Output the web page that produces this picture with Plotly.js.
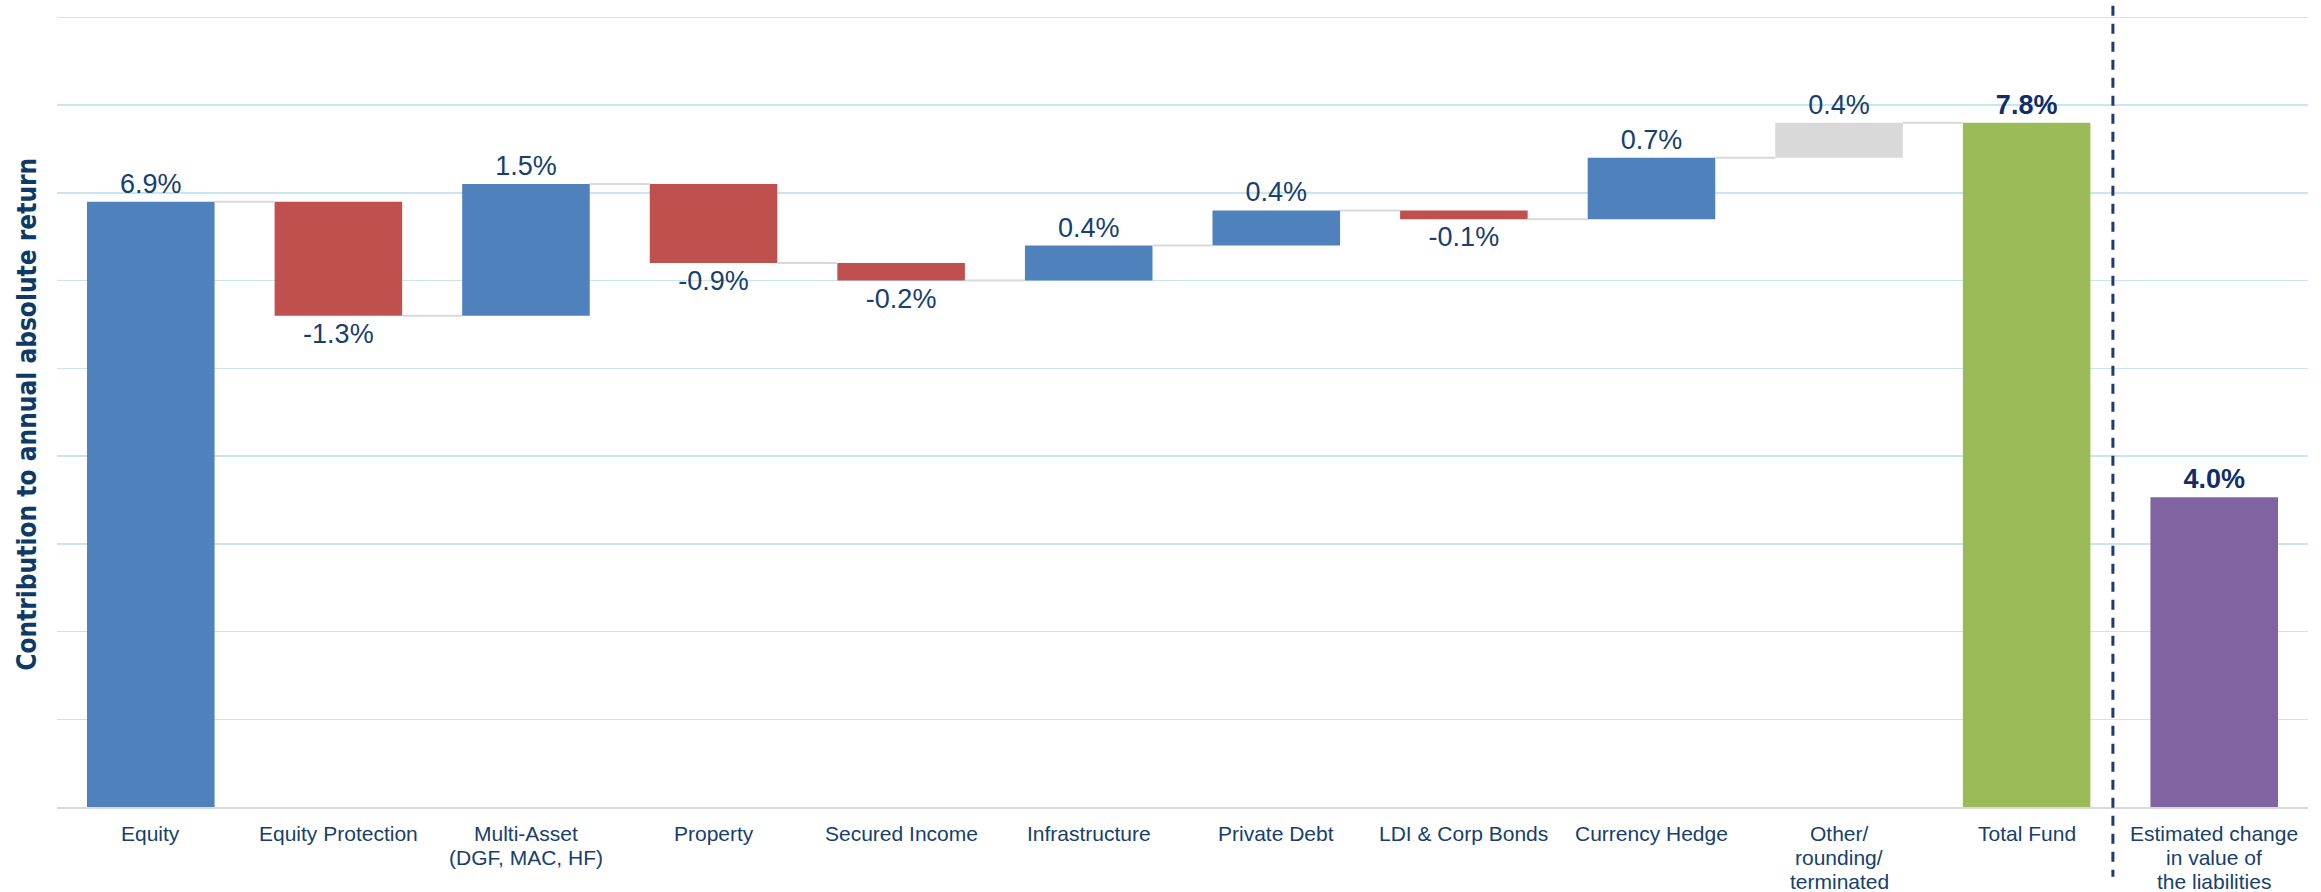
<!DOCTYPE html>
<html>
<head>
<meta charset="utf-8">
<script src="https://cdn.plot.ly/plotly-3.0.1.min.js"></script>
<style>html,body{margin:0;padding:0;background:#fff;}#chart{width:2321px;height:892px;}</style>
</head>
<body>
<div id="chart"></div>
<script>
// ---- data ----
const categories = ['Equity', 'Equity Protection', 'Multi-Asset<br>(DGF, MAC, HF)', 'Property',
  'Secured Income', 'Infrastructure', 'Private Debt', 'LDI & Corp Bonds', 'Currency Hedge',
  'Other/<br>rounding/<br>terminated', 'Total Fund', 'Estimated change<br>in value of<br>the liabilities'];
const contributions = [6.9, -1.3, 1.5, -0.9, -0.2, 0.4, 0.4, -0.1, 0.7, 0.4];
const contributionLabels = ['6.9%', '-1.3%', '1.5%', '-0.9%', '-0.2%', '0.4%', '0.4%', '-0.1%', '0.7%', '0.4%'];
const totalFund = [7.8];
const totalFundLabel = ['7.8%'];
const liabilityChange = [4.0];
const liabilityLabel = ['4.0%'];
const yTitle = 'Contribution to annual absolute return';

// ---- derived ----
const BLUE = '#4F81BD', RED = '#C0504D', GREY = '#D9D9D9', GREEN = '#9BBB59', PURPLE = '#8064A2';
const NAVY = '#17406D';
const BW = 0.68;
const stepX = contributions.map((_, i) => i);
const bases = [];
const levels = [];
let run = 0;
contributions.forEach((v) => { bases.push(run); run = Math.round((run + v) * 1000) / 1000; levels.push(run); });
const stepColors = contributions.map((v, i) => i === contributions.length - 1 ? GREY : (v >= 0 ? BLUE : RED));
const totalX = contributions.length;
const liabX = contributions.length + 1;

// connectors
const cx = [], cy = [];
for (let i = 0; i < contributions.length; i++) {
  cx.push(i + BW / 2, i + 1 - BW / 2, null);
  cy.push(levels[i], levels[i], null);
}

const labelFont = {family: 'Liberation Sans, Arial, sans-serif', size: 27, color: NAVY};
const boldFont = {family: 'Liberation Sans, Arial, sans-serif', size: 27, color: '#0F2D6B', weight: 'bold'};

const traces = [
  {type: 'scatter', mode: 'lines', x: cx, y: cy, line: {color: '#D9D9D9', width: 2}, hoverinfo: 'skip', showlegend: false},
  {type: 'bar', x: stepX, y: contributions, base: bases, width: BW,
    marker: {color: stepColors, line: {width: 0}},
    text: contributionLabels, textposition: 'outside', textfont: labelFont, outsidetextfont: labelFont,
    cliponaxis: false, constraintext: 'none', showlegend: false, hoverinfo: 'skip'},
  {type: 'bar', x: [totalX], y: totalFund, width: BW, marker: {color: GREEN},
    text: totalFundLabel.map(t => '<b>' + t + '</b>'), textposition: 'outside', textfont: boldFont, outsidetextfont: boldFont,
    cliponaxis: false, constraintext: 'none', showlegend: false, hoverinfo: 'skip'},
  {type: 'bar', x: [liabX], y: liabilityChange, width: BW, yaxis: 'y2', marker: {color: PURPLE},
    text: liabilityLabel.map(t => '<b>' + t + '</b>'), textposition: 'outside', textfont: boldFont, outsidetextfont: boldFont,
    cliponaxis: false, constraintext: 'none', showlegend: false, hoverinfo: 'skip'}
];

// category labels: one annotation per line so the line spacing can follow the reference
const annotations = [];
categories.forEach((c, i) => {
  c.split('<br>').forEach((line, k) => {
    annotations.push({
      xref: 'x', yref: 'paper', x: i, y: 0, xanchor: 'center', yanchor: 'middle',
      yshift: -26 - 24 * k, text: line, showarrow: false,
      font: {family: 'Liberation Sans, Arial, sans-serif', size: 21, color: NAVY}
    });
  });
});
annotations.push({
  xref: 'paper', yref: 'paper', x: -30 / 2251, y: 0.494, xanchor: 'center', yanchor: 'middle',
  textangle: -90, text: '<b>' + yTitle + '</b>', showarrow: false,
  font: {family: 'DejaVu Sans Condensed, DejaVu Sans, sans-serif', size: 26, color: '#0D3A66'}
});

const layout = {
  width: 2321, height: 892,
  margin: {l: 57, r: 13, t: 13, b: 85},
  paper_bgcolor: '#ffffff', plot_bgcolor: '#ffffff',
  barmode: 'overlay',
  showlegend: false,
  xaxis: {
    range: [-0.5, 11.5], tickmode: 'array', tickvals: categories.map((_, i) => i),
    showticklabels: false, showgrid: false, zeroline: false, showline: true, linecolor: '#D9D9D9', linewidth: 2,
    ticks: '', fixedrange: true
  },
  yaxis: {
    range: [0, 9.05], tickmode: 'array', tickvals: [1, 2, 3, 4, 5, 6, 7, 8, 9],
    showticklabels: false, ticks: '', showgrid: true, gridcolor: '#C9E6F0', gridwidth: 1.5,
    zeroline: false, showline: false, fixedrange: true
  },
  yaxis2: {
    overlaying: 'y', range: [0, 10.25], showgrid: false, showticklabels: false, zeroline: false, showline: false, ticks: '', fixedrange: true
  },
  annotations: annotations,
  shapes: [{
    type: 'line', xref: 'x', yref: 'paper', x0: 10.46, x1: 10.46, y0: 1.009, y1: -0.088,
    line: {color: '#1F3A78', width: 3, dash: '10px,8px'}
  }],
  font: {family: 'Liberation Sans, Arial, sans-serif', color: NAVY}
};

Plotly.newPlot('chart', traces, layout, {staticPlot: true, displayModeBar: false});
</script>
</body>
</html>
